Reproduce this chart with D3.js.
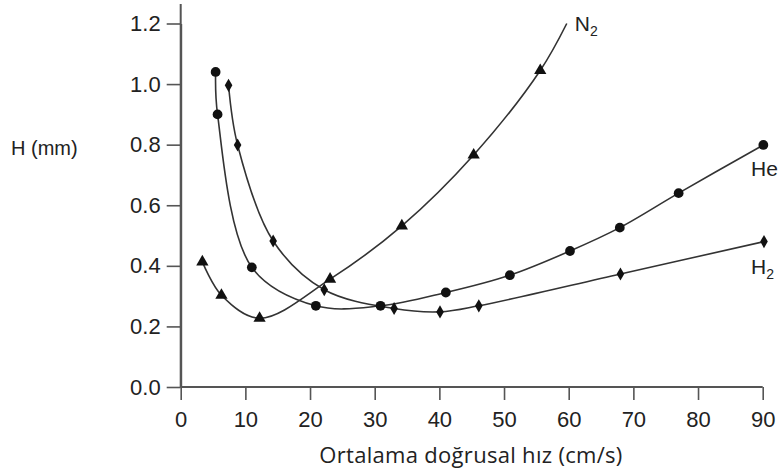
<!DOCTYPE html>
<html><head><meta charset="utf-8">
<script src="https://cdn.jsdelivr.net/npm/d3@7"></script>
<style>body{margin:0;background:#fff}</style>
</head><body>
<svg id="c" width="782" height="475"></svg>
<script>
// Data
const heX = [5.4, 5.7, 11.0, 20.9, 30.9, 41.0, 50.9, 60.2, 67.9, 77.0, 90.1];
const heY = [1.04, 0.90, 0.395, 0.268, 0.268, 0.312, 0.369, 0.449, 0.526, 0.640, 0.799];
const h2X = [7.4, 8.8, 14.3, 22.2, 33.0, 40.1, 46.1, 68.0, 90.2];
const h2Y = [0.996, 0.799, 0.482, 0.321, 0.259, 0.248, 0.268, 0.373, 0.480];
const n2X = [3.35, 6.3, 12.2, 23.1, 34.2, 45.3, 55.6];
const n2Y = [0.413, 0.303, 0.227, 0.356, 0.532, 0.766, 1.045];
const n2EndX = 59.7, n2EndY = 1.2; // curve continues past last marker
const xTicks = [0, 10, 20, 30, 40, 50, 60, 70, 80, 90];
const yTicks = [0.0, 0.2, 0.4, 0.6, 0.8, 1.0, 1.2];

const svg = d3.select("#c");
const x = d3.scaleLinear().domain([0, 90]).range([180.7, 762.7]);
const y = d3.scaleLinear().domain([0, 1.2]).range([387, 23.5]);
const tickFont = "'Liberation Sans',Arial,sans-serif";

// Axes
const axisCol = "#555";
const xa = svg.append("g").attr("transform", "translate(0,387)")
  .call(d3.axisBottom(x).tickValues(xTicks).tickFormat(d3.format("d")).tickSize(13).tickPadding(11).tickSizeOuter(0));
const ya = svg.append("g").attr("transform", "translate(180.7,0)")
  .call(d3.axisLeft(y).tickValues(yTicks).tickFormat(d3.format(".1f")).tickSize(14).tickPadding(6).tickSizeOuter(0));
[xa, ya].forEach(a => {
  a.select(".domain").attr("stroke", axisCol).attr("stroke-width", 2);
  a.selectAll(".tick line").attr("stroke", axisCol).attr("stroke-width", 1.6);
  a.selectAll("text").attr("font-family", tickFont).attr("font-size", 22).attr("fill", "#222");
});
// extend y axis to top
ya.append("line").attr("x1", 0).attr("x2", 0).attr("y1", 4).attr("y2", 387)
  .attr("stroke", axisCol).attr("stroke-width", 2);
xa.select(".domain").attr("d", `M${x(0)},0H${x(90)}`);

// Axis titles
svg.append("text").attr("x", 471).attr("y", 463).attr("text-anchor", "middle")
  .attr("font-family", "'Open Sans',Lato,sans-serif").attr("font-size", 22).attr("letter-spacing", 0.3).attr("fill", "#222")
  .text("Ortalama doğrusal hız (cm/s)");
svg.append("text").attr("x", 11).attr("y", 155)
  .attr("font-family", "'Liberation Sans',Arial,sans-serif").attr("font-size", 20).attr("fill", "#222")
  .text("H (mm)");

// Curves
const line = d3.line().x(d => x(d[0])).y(d => y(d[1])).curve(d3.curveCatmullRom.alpha(0.5));
const lineCol = "#333";
const he = heX.map((v, i) => [v, heY[i]]);
const h2 = h2X.map((v, i) => [v, h2Y[i]]);
const n2 = n2X.map((v, i) => [v, n2Y[i]]);
[he, h2, n2.concat([[n2EndX, n2EndY]])].forEach(d => {
  svg.append("path").datum(d).attr("d", line).attr("fill", "none")
    .attr("stroke", lineCol).attr("stroke-width", 1.6);
});

// Markers
svg.append("g").selectAll("path").data(he).join("path")
  .attr("transform", d => `translate(${x(d[0])},${y(d[1])})`)
  .attr("d", d3.symbol(d3.symbolCircle, 75)).attr("fill", "#111");
svg.append("g").selectAll("path").data(h2).join("path")
  .attr("transform", d => `translate(${x(d[0])},${y(d[1])})`)
  .attr("d", d3.symbol(d3.symbolDiamond, 50)).attr("fill", "#111");
svg.append("g").selectAll("path").data(n2).join("path")
  .attr("transform", d => `translate(${x(d[0])},${y(d[1])})`)
  .attr("d", d3.symbol(d3.symbolTriangle, 65)).attr("fill", "#111");

// Series labels
function lab(xp, yp, main, sub) {
  const t = svg.append("text").attr("x", xp).attr("y", yp)
    .attr("font-family", "'Liberation Sans',Arial,sans-serif").attr("font-size", 21).attr("fill", "#222");
  t.append("tspan").text(main);
  if (sub) t.append("tspan").attr("font-size", 14).attr("dy", 5).text(sub);
}
lab(x(n2EndX) + 8, 31, "N", "2");
lab(751, 176, "He");
lab(751, 274, "H", "2");
</script>
</body></html>
